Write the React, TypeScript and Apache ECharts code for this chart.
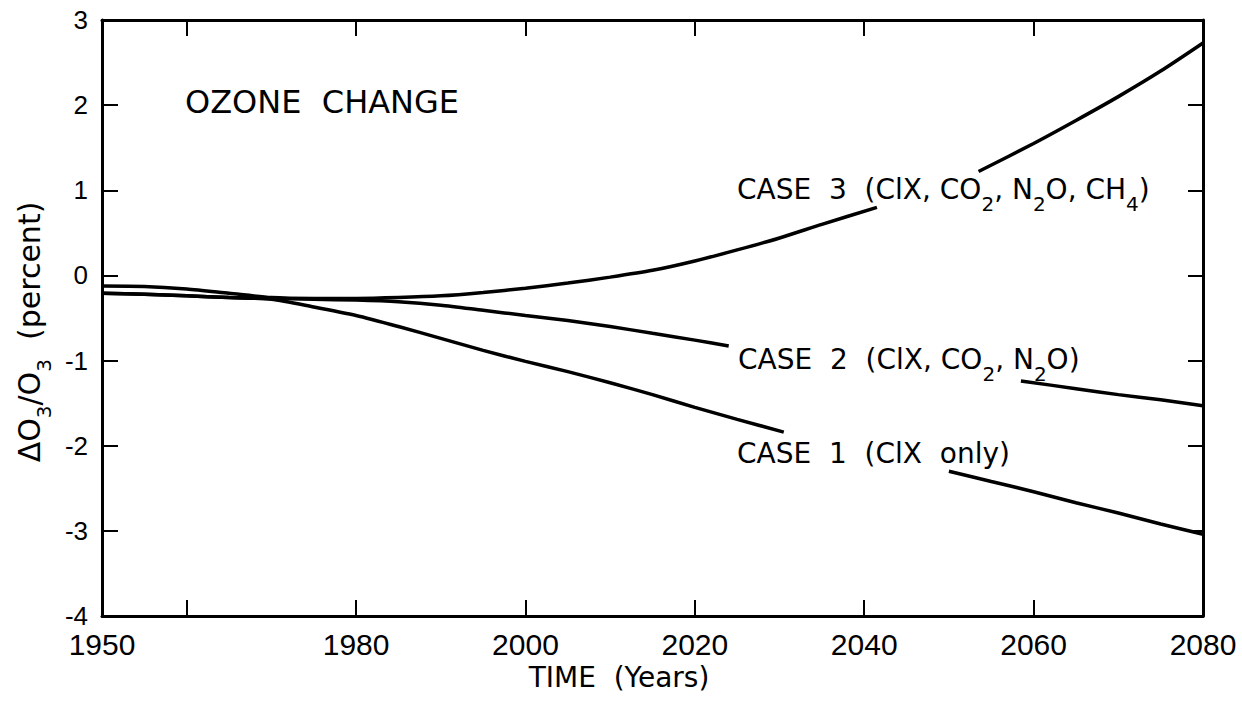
import React, { useEffect, useRef } from "react";
import * as echarts from "echarts";

// X axis: tick years (inside ticks) and labelled years
const tickYears = [1960, 1980, 2000, 2020, 2040, 2060];
const labelYears = [1950, 1980, 2000, 2020, 2040, 2060, 2080];

// CASE 3 (ClX, CO2, N2O, CH4) — gap where the label sits
const case3Years = [1950, 1955, 1960, 1965, 1970, 1975, 1980, 1985, 1990, 1995, 2000, 2005, 2010, 2015, 2020, 2025, 2030, 2035, 2041.5, 2047, 2053.5, 2060, 2065, 2070, 2075, 2080];
const case3Values = [-0.125, -0.13, -0.16, -0.21, -0.26, -0.27, -0.27, -0.26, -0.24, -0.2, -0.15, -0.09, -0.02, 0.06, 0.17, 0.3, 0.44, 0.6, 0.8, null, 1.22, 1.55, 1.82, 2.1, 2.4, 2.73];

// CASE 2 (ClX, CO2, N2O)
const case2Years = [1950, 1955, 1960, 1965, 1970, 1975, 1980, 1985, 1990, 1995, 2000, 2005, 2010, 2015, 2020, 2024, 2041, 2058.5, 2065, 2070, 2075, 2080];
const case2Values = [-0.21, -0.22, -0.24, -0.26, -0.27, -0.28, -0.29, -0.31, -0.35, -0.41, -0.47, -0.53, -0.6, -0.68, -0.76, -0.83, null, -1.24, -1.33, -1.4, -1.46, -1.53];

// CASE 1 (ClX only)
const case1Years = [1950, 1955, 1960, 1965, 1970, 1975, 1980, 1985, 1990, 1995, 2000, 2005, 2010, 2015, 2020, 2025, 2030.5, 2040, 2050, 2055, 2060, 2065, 2070, 2075, 2080];
const case1Values = [-0.21, -0.22, -0.24, -0.26, -0.28, -0.37, -0.47, -0.6, -0.74, -0.88, -1.01, -1.13, -1.26, -1.4, -1.55, -1.69, -1.84, null, -2.3, -2.42, -2.54, -2.67, -2.79, -2.92, -3.04];

const NB = "\u00a0";
const TEXT_FONT = "DejaVu Sans";
const NUM_FONT = "Liberation Sans";

const pairs = (xs: number[], ys: (number | null)[]) => xs.map((x, i) => [x, ys[i]]);

export default function App() {
  const ref = useRef<HTMLDivElement>(null);
  useEffect(() => {
    if (!ref.current) return;
    const chart = echarts.init(ref.current, undefined, { renderer: "svg" });
    const axisLine = { show: true, onZero: false, lineStyle: { color: "#000", width: 3 } };
    const sub = { fontSize: 20, fontFamily: TEXT_FONT, fill: "#000", padding: [30, 0, 0, 0] };
    const lineSeries = (name: string, data: any[]) => ({
      name,
      type: "line",
      data,
      xAxisIndex: 0,
      yAxisIndex: 0,
      showSymbol: false,
      smooth: 0.25,
      connectNulls: false,
      lineStyle: { color: "#000", width: 3.5 },
      itemStyle: { color: "#000" },
    });
    chart.setOption({
      animation: false,
      backgroundColor: "#fff",
      grid: { left: 102, right: 39, top: 20, bottom: 86, containLabel: false },
      xAxis: [
        {
          type: "value",
          min: 1950,
          max: 2080,
          position: "bottom",
          axisLine,
          axisTick: { show: true, inside: true, length: 16, customValues: tickYears, lineStyle: { color: "#000", width: 2 } },
          axisLabel: {
            customValues: labelYears,
            formatter: (v: number) => String(v),
            color: "#000",
            fontFamily: NUM_FONT,
            fontSize: 30,
            margin: 13,
          },
          splitLine: { show: false },
        },
        {
          type: "value",
          min: 1950,
          max: 2080,
          position: "top",
          axisLine,
          axisTick: { show: true, inside: true, length: 16, customValues: tickYears, lineStyle: { color: "#000", width: 2 } },
          axisLabel: { show: false },
          splitLine: { show: false },
        },
      ],
      yAxis: [
        {
          type: "value",
          min: -4,
          max: 3,
          interval: 1,
          position: "left",
          axisLine,
          axisTick: { show: true, inside: true, length: 16, lineStyle: { color: "#000", width: 2 } },
          axisLabel: { color: "#000", fontFamily: NUM_FONT, fontSize: 26, margin: 14 },
          splitLine: { show: false },
        },
        {
          type: "value",
          min: -4,
          max: 3,
          interval: 1,
          position: "right",
          axisLine,
          axisTick: { show: true, inside: true, length: 15, lineStyle: { color: "#000", width: 2 } },
          axisLabel: { show: false },
          splitLine: { show: false },
        },
      ],
      series: [
        lineSeries("CASE 3", pairs(case3Years, case3Values)),
        lineSeries("CASE 2", pairs(case2Years, case2Values)),
        lineSeries("CASE 1", pairs(case1Years, case1Values)),
      ],
      graphic: [
        {
          type: "text",
          x: 185,
          y: 102,
          style: { text: `OZONE${NB}${NB}CHANGE`, fontFamily: TEXT_FONT, fontSize: 32, fill: "#000", align: "left", verticalAlign: "middle" },
        },
        {
          type: "text",
          x: 737,
          y: 189,
          style: {
            text: `CASE${NB}${NB}3${NB}${NB}(ClX,${NB}CO{s|2},${NB}N{s|2}O,${NB}CH{s|4})`,
            fontFamily: TEXT_FONT,
            fontSize: 28,
            fill: "#000",
            align: "left",
            verticalAlign: "middle",
            rich: { s: sub },
          },
        },
        {
          type: "text",
          x: 738,
          y: 359,
          style: {
            text: `CASE${NB}${NB}2${NB}${NB}(ClX,${NB}CO{s|2},${NB}N{s|2}O)`,
            fontFamily: TEXT_FONT,
            fontSize: 28,
            fill: "#000",
            align: "left",
            verticalAlign: "middle",
            rich: { s: sub },
          },
        },
        {
          type: "text",
          x: 737,
          y: 453,
          style: {
            text: `CASE${NB}${NB}1${NB}${NB}(ClX${NB}${NB}only)`,
            fontFamily: TEXT_FONT,
            fontSize: 28,
            fill: "#000",
            align: "left",
            verticalAlign: "middle",
          },
        },
        {
          type: "text",
          x: 619,
          y: 677,
          style: { text: `TIME${NB}${NB}(Years)`, fontFamily: TEXT_FONT, fontSize: 28, fill: "#000", align: "center", verticalAlign: "middle" },
        },
        {
          type: "text",
          x: 29,
          y: 332,
          rotation: Math.PI / 2,
          style: {
            text: `\u0394O{s|3}/O{s|3}${NB}${NB}(percent)`,
            fontFamily: TEXT_FONT,
            fontSize: 30,
            fill: "#000",
            align: "center",
            verticalAlign: "middle",
            rich: { s: { fontSize: 20, fontFamily: TEXT_FONT, fill: "#000", padding: [30, 0, 0, 0] } },
          },
        },
      ],
    });
    return () => chart.dispose();
  }, []);
  return <div ref={ref} style={{ position: "fixed", left: 0, top: 0, width: 1242, height: 702, background: "#fff" }} />;
}
